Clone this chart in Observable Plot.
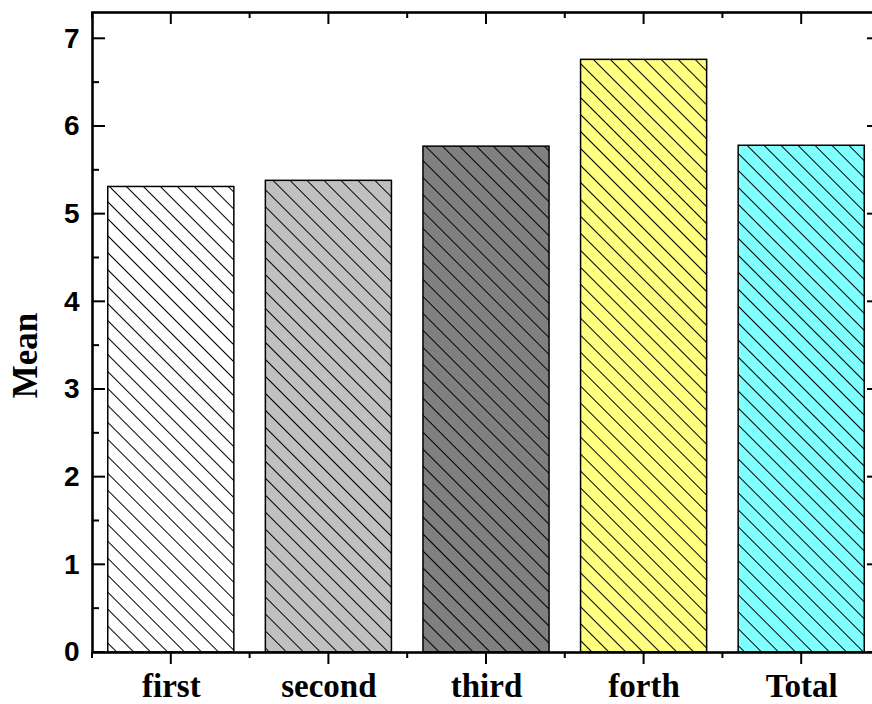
<!DOCTYPE html>
<html><head><meta charset="utf-8">
<script src="https://cdn.jsdelivr.net/npm/d3@7"></script>
<script src="https://cdn.jsdelivr.net/npm/@observablehq/plot@0.6"></script>
<style>html,body{margin:0;padding:0;overflow:hidden;background:#fff}</style>
</head><body><div id="chart"></div>
<script>
const categories = ["first", "second", "third", "forth", "Total"];
const means = [5.31, 5.38, 5.77, 6.76, 5.78];
const colors = ["#FFFFFF", "#C0C0C0", "#808080", "#FFFF80", "#80FFFF"];
const yTicks = [0, 1, 2, 3, 4, 5, 6, 7];
const yMinorTicks = [0.5, 1.5, 2.5, 3.5, 4.5, 5.5, 6.5];
const yLabel = "Mean";

const data = categories.map((c, i) => ({cat: c, pos: i + 1, mean: means[i], color: colors[i]}));
const positions = data.map(d => d.pos);
const bounds = d3.range(0.5, categories.length + 1, 1);
const halfBar = 0.4;

function ticksAndDefs(index, scales, channels, dims) {
  const {x, y} = scales;
  const L = dims.marginLeft, R = dims.width - dims.marginRight;
  const T = dims.marginTop, B = dims.height - dims.marginBottom;
  const g = d3.create("svg:g");
  const defs = g.append("defs");
  const p = defs.append("pattern").attr("id", "hatch").attr("patternUnits", "userSpaceOnUse")
    .attr("width", 12).attr("height", 12).attr("patternTransform", "rotate(45)");
  p.append("line").attr("x1", -1).attr("x2", 13).attr("y1", 6).attr("y2", 6)
    .attr("stroke", "black").attr("stroke-width", 1).attr("shape-rendering", "crispEdges");
  const t = g.append("g").attr("stroke", "black").attr("stroke-width", 2).attr("fill", "none");
  for (const v of yTicks) {
    t.append("line").attr("x1", L).attr("x2", L + 13).attr("y1", y(v)).attr("y2", y(v));
    t.append("line").attr("x1", R).attr("x2", R - 13).attr("y1", y(v)).attr("y2", y(v));
  }
  for (const v of yMinorTicks) {
    t.append("line").attr("x1", L).attr("x2", L + 7).attr("y1", y(v)).attr("y2", y(v));
    t.append("line").attr("x1", R).attr("x2", R - 7).attr("y1", y(v)).attr("y2", y(v));
  }
  for (const v of positions) {
    t.append("line").attr("x1", x(v)).attr("x2", x(v)).attr("y1", B).attr("y2", B + 12);
    t.append("line").attr("x1", x(v)).attr("x2", x(v)).attr("y1", T).attr("y2", T + 12);
  }
  for (const v of bounds) {
    t.append("line").attr("x1", x(v)).attr("x2", x(v)).attr("y1", B).attr("y2", B + 6);
    t.append("line").attr("x1", x(v)).attr("x2", x(v)).attr("y1", T).attr("y2", T + 6);
  }
  return g.node();
}

const chart = Plot.plot({
  width: 872,
  height: 704,
  marginLeft: 92,
  marginRight: -8,
  marginTop: 12,
  marginBottom: 52,
  style: {background: "white", color: "black"},
  x: {type: "linear", domain: [0.5, 5.5]},
  y: {domain: [0, 7.3]},
  color: {type: "identity"},
  marks: [
    Plot.rectY(data, {x1: d => d.pos - halfBar, x2: d => d.pos + halfBar, y1: 0, y2: "mean", fill: d => d.color}),
    Plot.rectY(data, {x1: d => d.pos - halfBar, x2: d => d.pos + halfBar, y1: 0, y2: "mean", fill: "url(#hatch)", stroke: "black", strokeWidth: 1.5}),
    ticksAndDefs,
    Plot.frame({stroke: "black", strokeWidth: 2.6}),
    Plot.axisY(yTicks, {anchor: "left", tickSize: 0, tickPadding: 13, tickFormat: d3.format("d"), fontSize: 28, fontWeight: "bold", fontFamily: "Liberation Sans, Arial, sans-serif", label: null}),
    Plot.axisX(positions, {anchor: "bottom", tickSize: 0, tickPadding: 21, tickFormat: d => categories[d - 1], fontSize: 33, fontWeight: "bold", fontFamily: "Liberation Serif, Times New Roman, serif", label: null}),
    Plot.text([yLabel], {text: d => d, frameAnchor: "left", textAnchor: "middle", dx: -67, dy: 23, rotate: -90, fontSize: 35, fontWeight: "bold", fontFamily: "Liberation Serif, Times New Roman, serif"})
  ]
});
document.getElementById("chart").append(chart);
</script>
</body></html>
